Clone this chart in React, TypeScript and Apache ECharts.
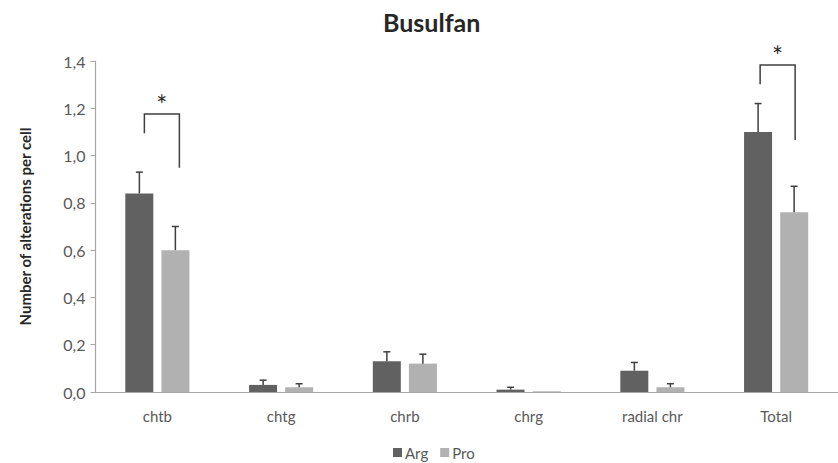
import React, { useEffect, useRef } from "react";
import * as echarts from "echarts";

const categories = ["chtb", "chtg", "chrb", "chrg", "radial chr", "Total"];
const argValues = [0.84, 0.03, 0.13, 0.01, 0.09, 1.1];
const argErrors = [0.09, 0.02, 0.04, 0.01, 0.035, 0.12];
const proValues = [0.6, 0.02, 0.12, 0.003, 0.02, 0.76];
const proErrors = [0.1, 0.015, 0.04, 0, 0.015, 0.11];
const yTicks = [0, 0.2, 0.4, 0.6, 0.8, 1.0, 1.2, 1.4];
// significance brackets: category index, left foot, top, right foot, star height
const bracketCats = [0, 5];
const bracketLeftFoot = [1.094, 1.302];
const bracketTop = [1.176, 1.383];
const bracketRightFoot = [0.949, 1.066];
const bracketStar = [1.215, 1.42];
const bracketLabels = ["*", "*"];

const FONT = "Lato";
const ARG_COLOR = "#616161";
const PRO_COLOR = "#b1b1b1";
const ERR_COLOR = "#3f3f3f";
const AXIS_COLOR = "#a6a6a6";
const TEXT_COLOR = "#595959";
const BAR_OFFSET = 18;

export default function App() {
  const ref = useRef<HTMLDivElement>(null);
  useEffect(() => {
    document.body.style.margin = "0";
    if (!ref.current) return;
    const chart = echarts.init(ref.current, undefined, { renderer: "svg" });

    const errRender = (offset: number) => (params: any, api: any) => {
      const idx = api.value(0);
      const v = api.value(1);
      const e = api.value(2);
      if (!e) return null;
      const p0 = api.coord([idx, v]);
      const p1 = api.coord([idx, v + e]);
      const x = p0[0] + offset;
      return {
        type: "group",
        children: [
          {
            type: "line",
            shape: { x1: x, y1: p0[1], x2: x, y2: p1[1] },
            style: { stroke: ERR_COLOR, lineWidth: 1.5 },
          },
          {
            type: "line",
            shape: { x1: x - 3.5, y1: p1[1], x2: x + 3.5, y2: p1[1] },
            style: { stroke: ERR_COLOR, lineWidth: 1.5 },
          },
        ],
      };
    };

    const bracketRender = (params: any, api: any) => {
      const i = params.dataIndex;
      const idx = api.value(0);
      const lf = api.coord([idx, api.value(1)]);
      const tp = api.coord([idx, api.value(2)]);
      const rf = api.coord([idx, api.value(3)]);
      const st = api.coord([idx, api.value(4)]);
      const lx = lf[0] - (i === 0 ? 13 : 16);
      const rx = lf[0] + (i === 0 ? 22 : 19);
      return {
        type: "group",
        children: [
          {
            type: "polyline",
            shape: {
              points: [
                [lx, lf[1]],
                [lx, tp[1]],
                [rx, tp[1]],
                [rx, rf[1]],
              ],
            },
            style: { stroke: ERR_COLOR, lineWidth: 1.5, fill: "none" },
          },
          {
            type: "text",
            x: (lx + rx) / 2,
            y: st[1],
            style: {
              text: bracketLabels[i],
              fontSize: 26,
              fontFamily: FONT,
              fill: "#2b2b2b",
              align: "center",
              verticalAlign: "middle",
            },
          },
        ],
      };
    };

    chart.setOption({
      animation: false,
      title: {
        text: "Busulfan",
        left: 378,
        top: 4,
        textStyle: {
          fontFamily: FONT,
          fontWeight: "bold",
          fontSize: 25,
          color: "#262626",
        },
      },
      legend: {
        data: ["Arg", "Pro"],
        left: 388,
        top: 440,
        icon: "rect",
        itemWidth: 9,
        itemHeight: 9,
        itemGap: 12,
        textStyle: { fontFamily: FONT, fontSize: 15, color: TEXT_COLOR, padding: [0, 0, 0, -2] },
      },
      grid: { left: 95.5, top: 61, width: 755, height: 331, containLabel: false },
      xAxis: {
        type: "category",
        data: categories,
        axisLine: { lineStyle: { color: AXIS_COLOR, width: 1.2 } },
        axisTick: { show: false },
        axisLabel: {
          fontFamily: FONT,
          fontSize: 15,
          color: TEXT_COLOR,
          margin: 16,
        },
      },
      yAxis: {
        type: "value",
        min: 0,
        max: 1.4,
        interval: 0.2,
        name: "Number of alterations per cell",
        nameLocation: "middle",
        nameGap: 63,
        nameTextStyle: {
          fontFamily: FONT,
          fontWeight: "bold",
          fontSize: 15,
          color: "#262626",
        },
        axisLine: { show: true, lineStyle: { color: AXIS_COLOR, width: 1.2 } },
        axisTick: { show: true, length: 5, lineStyle: { color: AXIS_COLOR } },
        splitLine: { show: false },
        axisLabel: {
          fontFamily: FONT,
          fontSize: 16,
          color: TEXT_COLOR,
          margin: 10,
          customValues: yTicks,
          formatter: (v: number) => v.toFixed(1).replace(".", ","),
        },
      },
      series: [
        {
          name: "Arg",
          type: "bar",
          data: argValues,
          barWidth: 28,
          barGap: "29%",
          itemStyle: { color: ARG_COLOR },
        },
        {
          name: "Pro",
          type: "bar",
          data: proValues,
          barWidth: 28,
          itemStyle: { color: PRO_COLOR },
        },
        {
          name: "ArgErr",
          type: "custom",
          renderItem: errRender(-BAR_OFFSET),
          data: argValues.map((v, i) => [i, v, argErrors[i]]),
          z: 5,
          silent: true,
        },
        {
          name: "ProErr",
          type: "custom",
          renderItem: errRender(BAR_OFFSET),
          data: proValues.map((v, i) => [i, v, proErrors[i]]),
          z: 5,
          silent: true,
        },
        {
          name: "Brackets",
          type: "custom",
          renderItem: bracketRender,
          data: bracketCats.map((c, i) => [
            c,
            bracketLeftFoot[i],
            bracketTop[i],
            bracketRightFoot[i],
            bracketStar[i],
          ]),
          z: 6,
          silent: true,
          clip: false,
        },
      ],
    });
    return () => chart.dispose();
  }, []);
  return <div ref={ref} style={{ width: 838, height: 463 }} />;
}
